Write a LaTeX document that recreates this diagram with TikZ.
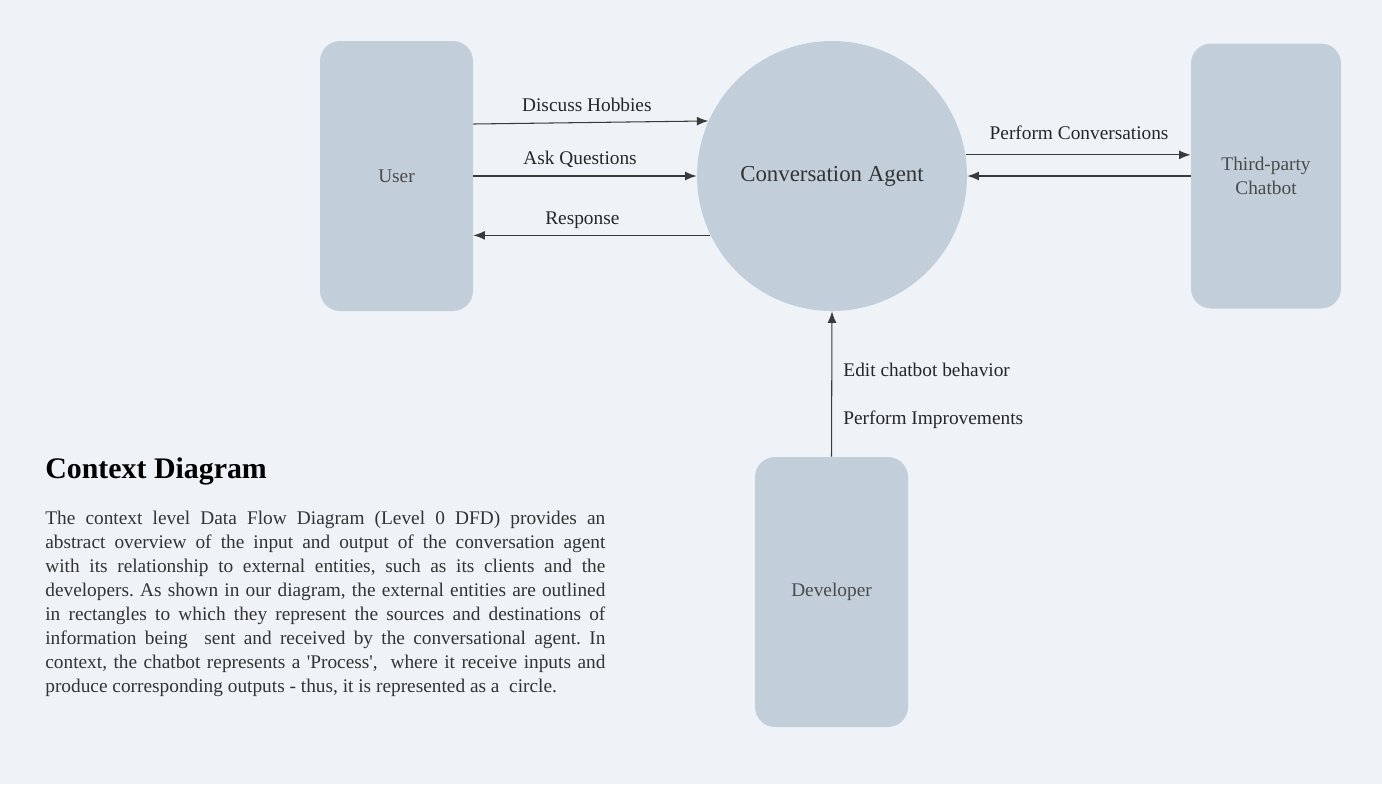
\documentclass[tikz,border=0pt]{standalone}
\usepackage{fontspec}
\setmainfont{Liberation Serif}
\usepackage{tikz}
\usetikzlibrary{calc,positioning,arrows.meta}
\tikzset{>={Latex[length=6.5pt,width=5pt]}}
\definecolor{bgpaper}{HTML}{EFF3F7}
\definecolor{boxfill}{HTML}{C2CFDA}
\definecolor{boxtext}{HTML}{4A4A4A}
\definecolor{flowline}{HTML}{3A3A3A}
\frenchspacing

\begin{document}
\begin{tikzpicture}[x=0.2mm, y=-0.2mm]

        % Setup the styles for the entities and the process
        \tikzset{entity style/.style={rectangle, rounded corners=0.4cm,
                                      minimum width=3.06cm,
                                      minimum height=5.4cm,
                                      fill=boxfill, text=boxtext,
                                      align=center,
                                      font=\fontsize{11}{13.6}\selectfont},
                 process style/.style={circle, minimum size=5.4cm,
                                       fill=boxfill, text=black!80,
                                       font=\fontsize{13}{16}\selectfont},
                 flow/.style={->, line width=0.6pt, draw=flowline},
                 flow label/.style={font=\fontsize{11}{13.6}\selectfont, text=black!85}}

        % Background and page size
        \fill[bgpaper] (0,0) rectangle (1382,784);
        \useasboundingbox (0,0) rectangle (1382,784);

        % Draw the entities and the process
        \node[entity style] at (396.5,176)   (user)   {User};
        \node[process style] at (832,176)    (agent)  {Conversation Agent};
        \node[entity style, minimum width=3cm, minimum height=5.3cm]
                            at (1266,176)    (third)  {Third-party\\Chatbot};
        \node[entity style] at (831.5,592)   (dev)    {Developer};

        % Connect them with the data flows
        \draw[flow] ($(user.east)+(0,-52)$) -- (agent.156)
            node[flow label, pos=0.483, above=2.3pt] {Discuss Hobbies};
        \draw[flow] (user.east) -- (agent.west)
            node[flow label, pos=0.478, above=1.2pt] {Ask Questions};
        \draw[flow] (agent.206) -- (agent.206 -| user.east)
            node[flow label, pos=0.54, above=0pt] {Response};
        \draw[flow] (agent.9) -- (agent.9 -| third.west)
            node[flow label, pos=0.504, above=5pt] {Perform Conversations};
        \draw[flow] (third.west) -- (agent.east);
        \draw[flow] (dev.north) -- (agent.south)
            node[flow label, pos=0.6, right=3pt] {Edit chatbot behavior}
            node[flow label, pos=0.255, right=3pt] {Perform Improvements};

        % Title and description
        \node[anchor=base west, inner sep=0, font=\fontsize{17}{20}\selectfont\bfseries]
            at (45,478) (title) {Context Diagram};
        \node[anchor=north west, inner sep=0, text width=11.2cm, align=justify,
              text=black!80, font=\fontsize{11}{13.6}\selectfont]
            at (45,511) (descr) {The context level Data Flow Diagram (Level 0 DFD) provides an\linebreak
            abstract overview of the input and output of the conversation agent\linebreak
            with its relationship to external entities, such as its clients and the\linebreak
            developers. As shown in our diagram, the external entities are outlined\linebreak
            in rectangles to which they represent the sources and destinations of\linebreak
            information being\ \ sent and received by the conversational agent. In\linebreak
            context, the chatbot represents a \textquotesingle Process\textquotesingle,\ \ where it receive inputs and\linebreak
            produce corresponding outputs - thus, it is represented as a\ \ circle.};
    \end{tikzpicture}
\end{document}
